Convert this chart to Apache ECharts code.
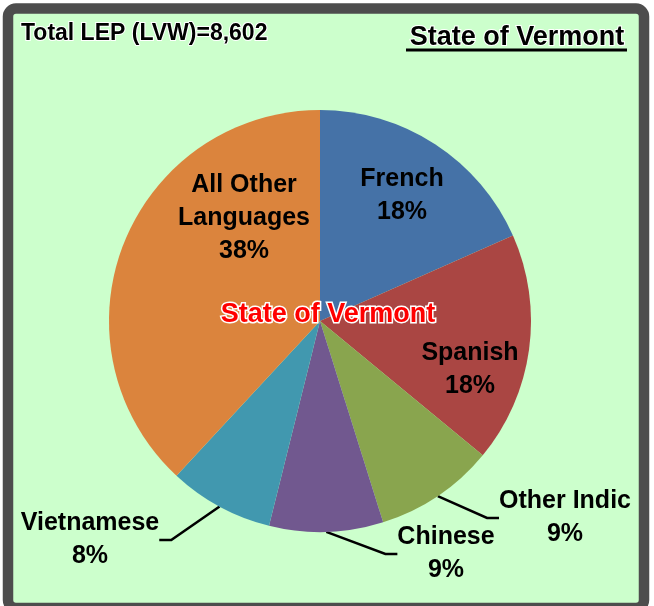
<!DOCTYPE html>
<html>
<head>
<meta charset="utf-8">
<script src="https://cdn.jsdelivr.net/npm/echarts@6/dist/echarts.min.js"></script>
<style>
  html, body { margin: 0; padding: 0; background: #fff; }
  #chart { width: 654px; height: 606px; }
</style>
</head>
<body>
<div id="chart"></div>
<script>
// data
var languages = ['French', 'Spanish', 'Other Indic', 'Chinese', 'Vietnamese', 'All Other\nLanguages'];
var speakers = [1580, 1515, 790, 750, 690, 3277];
var sliceColors = ['#4572A7', '#AA4643', '#89A54E', '#71588F', '#4198AF', '#DB843D'];
var stateName = 'State of Vermont';

var total = speakers.reduce(function (a, b) { return a + b; }, 0);

// where each label sits (text centre), and which labels go inside the pie
var labelSpots = [[402, 196], [470, 370], [565, 518], [446, 554], [90, 540], [244, 218]];
var insideLabel = [true, true, false, false, false, true];

var font = 'Liberation Sans, Arial, sans-serif';

var pieData = languages.map(function (name, i) {
  return {
    name: name,
    value: speakers[i],
    itemStyle: { color: sliceColors[i] },
    label: { position: insideLabel[i] ? 'inside' : 'outside' },
    labelLine: { show: !insideLabel[i] }
  };
});

var chart = echarts.init(document.getElementById('chart'));
chart.setOption({
  animation: false,
  backgroundColor: '#fff',
  title: [{
    text: 'Total LEP (LVW)=' + total.toLocaleString('en-US'),
    left: 21,
    top: 22,
    padding: 0,
    textStyle: {
      fontFamily: font, fontSize: 23, fontWeight: 'bold', color: '#000',
      textBorderColor: '#fff', textBorderWidth: 2
    }
  }, {
    text: stateName,
    left: 517,
    top: 24,
    padding: 0,
    textAlign: 'center',
    textStyle: {
      fontFamily: font, fontSize: 27, fontWeight: 'bold', color: '#000',
      textBorderColor: '#fff', textBorderWidth: 2
    }
  }, {
    text: stateName,
    left: 328,
    top: 301,
    padding: 0,
    textAlign: 'center',
    textStyle: {
      fontFamily: font, fontSize: 27, fontWeight: 'bold', color: '#ff0000',
      textBorderColor: '#fff', textBorderWidth: 3
    }
  }],
  graphic: [{
    type: 'rect',
    z: -10,
    silent: true,
    shape: { x: 8, y: 8.5, width: 636, height: 599.5, r: 8 },
    style: { fill: '#ccffcc', stroke: '#4d4d4d', lineWidth: 10.5 }
  }, {
    type: 'line',
    silent: true,
    shape: { x1: 406, y1: 50, x2: 627, y2: 50 },
    style: { stroke: '#000', lineWidth: 3 }
  }],
  series: [{
    type: 'pie',
    center: [320, 321],
    radius: 211,
    startAngle: 90,
    clockwise: true,
    avoidLabelOverlap: false,
    itemStyle: { borderWidth: 0 },
    label: {
      color: '#000',
      fontFamily: font,
      fontSize: 25,
      fontWeight: 'bold',
      lineHeight: 33,
      align: 'center',
      formatter: function (p) {
        return p.name + '\n' + Math.round(p.percent) + '%';
      }
    },
    labelLine: {
      length: 20,
      length2: 12,
      lineStyle: { color: '#000', width: 2.5 }
    },
    labelLayout: function (params) {
      var spot = labelSpots[params.dataIndex];
      return { x: spot[0], y: spot[1], align: 'center', verticalAlign: 'middle' };
    },
    emphasis: { disabled: true },
    data: pieData
  }]
});
</script>
</body>
</html>
